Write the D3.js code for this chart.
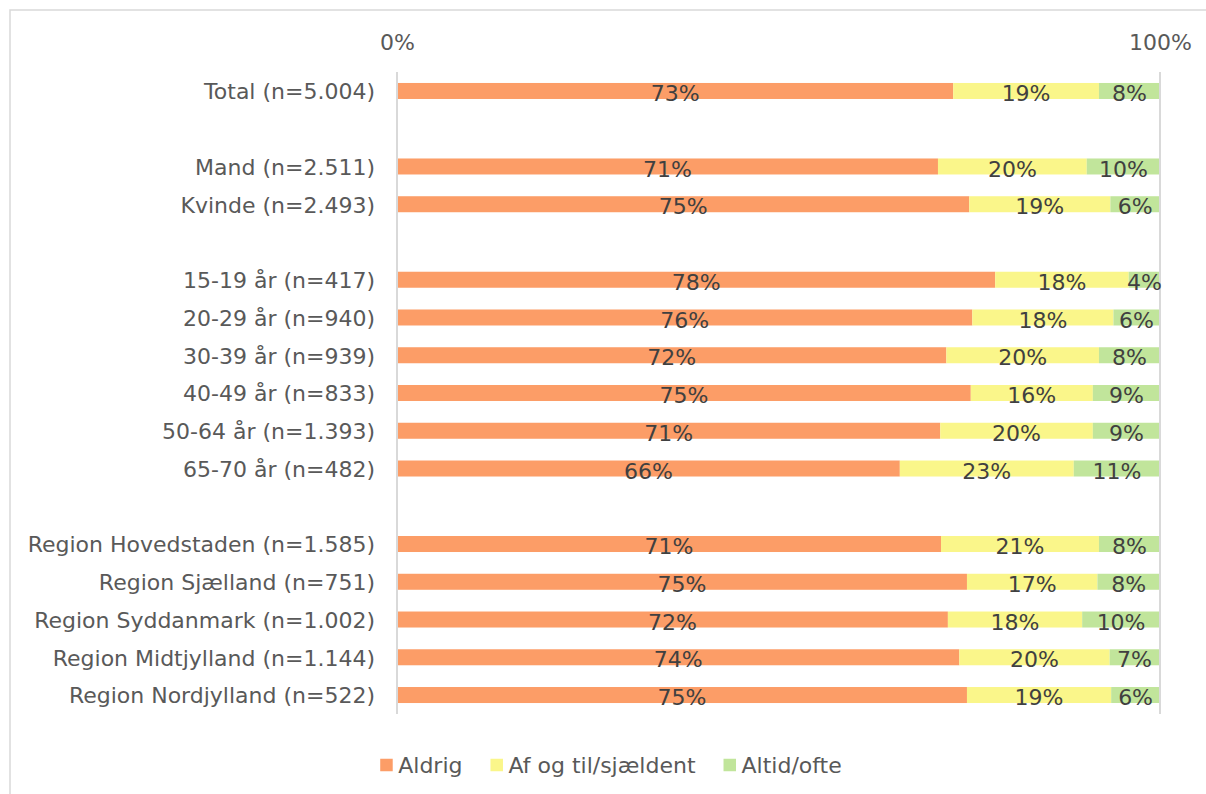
<!DOCTYPE html>
<html>
<head>
<meta charset="utf-8">
<script src="https://cdn.jsdelivr.net/npm/d3@7"></script>
<style>
  body { margin: 0; background: #fff; }
  svg { font-family: "DejaVu Sans", sans-serif; }
</style>
</head>
<body>
<div id="chart"></div>
<script>
// rows, "" = blank spacer row
const categories = [
    "Total (n=5.004)", "",
    "Mand (n=2.511)", "Kvinde (n=2.493)", "",
    "15-19 år (n=417)", "20-29 år (n=940)", "30-39 år (n=939)",
    "40-49 år (n=833)", "50-64 år (n=1.393)", "65-70 år (n=482)", "",
    "Region Hovedstaden (n=1.585)", "Region Sjælland (n=751)", "Region Syddanmark (n=1.002)",
    "Region Midtjylland (n=1.144)", "Region Nordjylland (n=522)"
];
const seriesNames = ["Aldrig", "Af og til/sjældent", "Altid/ofte"];

// shares in %, null for spacer rows
const aldrig = [72.9, null, 70.9, 75.0, null, 78.4, 75.4, 72.0, 75.2, 71.2, 65.9, null, 71.3, 74.7, 72.2, 73.7, 74.7];
const afOgTil = [19.1, null, 19.5, 18.5, null, 17.5, 18.5, 20.0, 16.0, 20.0, 22.8, null, 20.7, 17.1, 17.6, 19.7, 18.9];
const altid = [8.0, null, 9.6, 6.5, null, 4.1, 6.0, 8.0, 8.8, 8.8, 11.3, null, 8.0, 8.2, 10.2, 6.5, 6.4];

// printed labels
const aldrigLabels = ["73%", "", "71%", "75%", "", "78%", "76%", "72%", "75%", "71%", "66%", "", "71%", "75%", "72%", "74%", "75%"];
const afOgTilLabels = ["19%", "", "20%", "19%", "", "18%", "18%", "20%", "16%", "20%", "23%", "", "21%", "17%", "18%", "20%", "19%"];
const altidLabels = ["8%", "", "10%", "6%", "", "4%", "6%", "8%", "9%", "9%", "11%", "", "8%", "8%", "10%", "7%", "6%"];

const xTicks = [0, 100];

const colors = ["#FC9D67", "#FAF68A", "#C1E59B"];

const W = 1206, H = 794;
const x0 = 397, x1 = 1160;
const fontSize = 22;

const svg = d3.select("#chart").append("svg")
    .attr("width", W)
    .attr("height", H);

// chart frame (only top and left visible)
svg.append("path")
    .attr("d", `M10,${H} L10,10 L${W},10`)
    .attr("fill", "none")
    .attr("stroke", "#D9D9D9")
    .attr("stroke-width", 1.5);

const x = d3.scaleLinear().domain([0, 100]).range([x0, x1]);
const y = d3.scaleBand()
    .domain(categories.map((d, i) => i))
    .range([72.1, 713.9])
    .paddingInner(0.576)
    .paddingOuter(0.288);

const rows = categories.map((name, i) => ({
    i, name,
    vals: [aldrig[i], afOgTil[i], altid[i]],
    labels: [aldrigLabels[i], afOgTilLabels[i], altidLabels[i]]
})).filter(d => d.name !== "");

// segments
const segs = [];
rows.forEach(r => {
    let acc = 0;
    r.vals.forEach((v, k) => {
        segs.push({i: r.i, k, start: acc, end: acc + v, label: r.labels[k]});
        acc += v;
    });
});

svg.selectAll("rect.seg")
    .data(segs)
    .enter().append("rect")
    .attr("class", "seg")
    .attr("x", d => x(d.start))
    .attr("width", d => x(d.end) - x(d.start))
    .attr("y", d => y(d.i))
    .attr("height", y.bandwidth())
    .attr("fill", d => colors[d.k]);

// gridlines at 0% and 100%
svg.selectAll("line.grid")
    .data(xTicks)
    .enter().append("line")
    .attr("class", "grid")
    .attr("x1", d => x(d)).attr("x2", d => x(d))
    .attr("y1", 72).attr("y2", 714)
    .attr("stroke", "#D9D9D9")
    .attr("stroke-width", 2);

svg.selectAll("text.val")
    .data(segs)
    .enter().append("text")
    .attr("class", "val")
    .attr("x", d => x((d.start + d.end) / 2))
    .attr("y", d => y(d.i) + y.bandwidth() / 2 + 2.5)
    .attr("dy", "0.35em")
    .attr("text-anchor", "middle")
    .attr("font-size", fontSize)
    .attr("fill", "#404040")
    .text(d => d.label);

// top axis
const xAxis = svg.append("g")
    .attr("transform", "translate(0,50)")
    .call(d3.axisTop(x).tickValues(xTicks).tickSize(0).tickPadding(0).tickFormat(d => d + "%"));
xAxis.select(".domain").remove();
xAxis.selectAll("text")
    .attr("font-size", fontSize)
    .attr("font-family", "DejaVu Sans, sans-serif")
    .attr("fill", "#595959");

// category axis
const yAxis = svg.append("g")
    .attr("transform", `translate(${x0},0)`)
    .call(d3.axisLeft(y).tickSize(0).tickPadding(22).tickFormat(i => categories[i]));
yAxis.select(".domain").remove();
yAxis.selectAll("text")
    .attr("font-size", fontSize)
    .attr("font-family", "DejaVu Sans, sans-serif")
    .attr("fill", "#595959")
    .attr("dy", "0.38em");

// legend
const legend = svg.append("g").attr("transform", "translate(0,765)");
const items = legend.selectAll("g")
    .data(seriesNames)
    .enter().append("g");
items.append("rect")
    .attr("width", 12.5).attr("height", 12.5)
    .attr("y", -6.25)
    .attr("fill", (d, k) => colors[k]);
items.append("text")
    .attr("x", 18)
    .attr("dy", "0.35em")
    .attr("font-size", fontSize)
    .attr("fill", "#595959")
    .text(d => d);

let widths = [];
items.each(function() { widths.push(18 + d3.select(this).select("text").node().getComputedTextLength()); });
const gap = 28;
const total = d3.sum(widths) + gap * (widths.length - 1);
let lx = 611 - total / 2;
items.attr("transform", (d, k) => {
    const t = `translate(${lx},0)`;
    lx += widths[k] + gap;
    return t;
});
</script>
</body>
</html>
